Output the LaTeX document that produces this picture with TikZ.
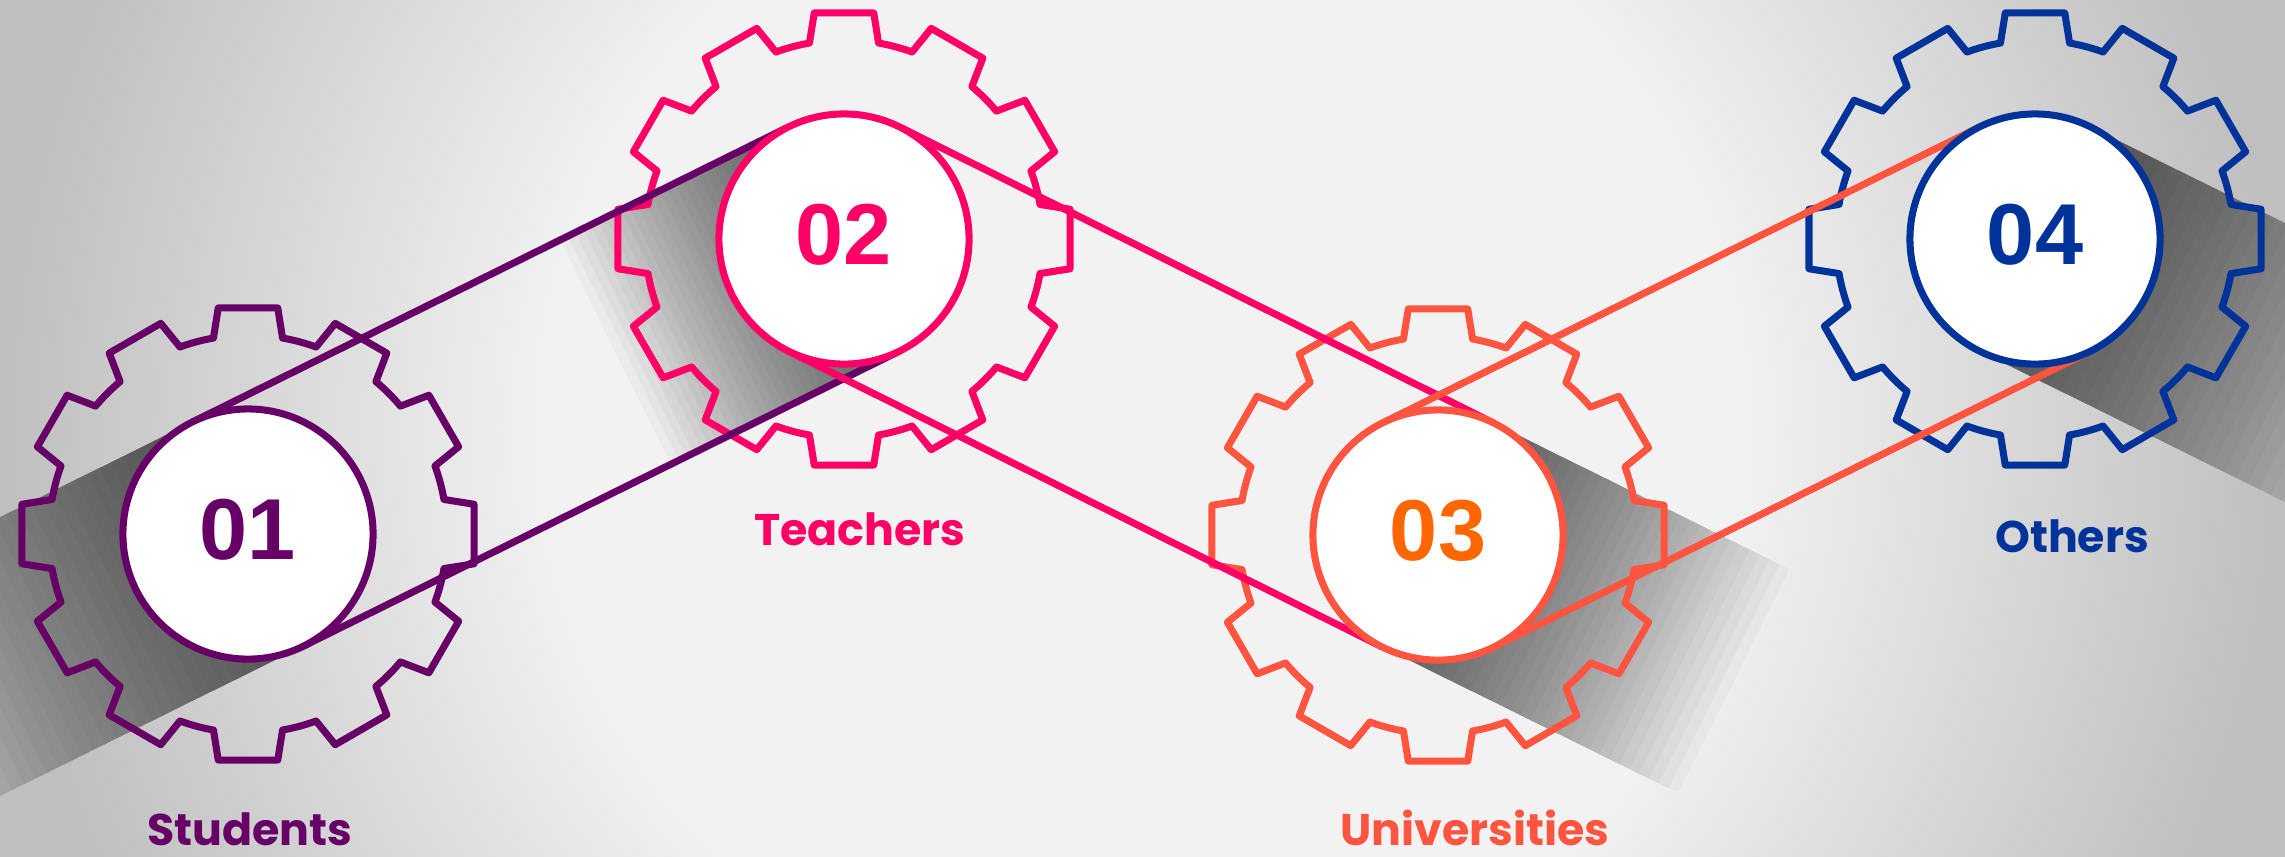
\documentclass[tikz,border=0pt]{standalone}
\usepackage{fontspec}
\usetikzlibrary{calc}

\newfontfamily\numfont{Liberation Sans}
\newfontfamily\tagfont{Poppins}

\definecolor{stud}{HTML}{660066}
\definecolor{teach}{HTML}{FF0066}
\definecolor{univ}{HTML}{FF5540}
\definecolor{univnum}{HTML}{FF6600}
\definecolor{oth}{HTML}{003399}
\definecolor{bgmid}{HTML}{F2F2F2}
\definecolor{bgedge}{HTML}{BFBFBF}

\pgfdeclareradialshading{bgglow}{\pgfpoint{0bp}{0bp}}{color(0bp)=(bgmid); color(13bp)=(bgmid); color(25bp)=(bgedge); color(50bp)=(bgedge)}

\tikzset{
  gearline/.style={draw=#1, line width=2pt, line join=round},
  belt/.style={draw=#1, line width=2pt},
  hub/.style={circle, draw=#1, fill=white, line width=2pt, minimum size=2.5cm, inner sep=0pt, text depth=1mm, text=#1, font=\numfont\bfseries\fontsize{24.6}{26}\selectfont},
  tag/.style={text=#1, inner sep=0pt, anchor=base, font=\tagfont\bfseries\fontsize{12.6}{14}\selectfont},
  shadowlayer/.style={fill=black, fill opacity=0.028}
}

\begin{document}
\begin{tikzpicture}[x=0.01cm, y=-0.01cm]
    \useasboundingbox (0,0) rectangle (2285,856);
    \begin{scope}
        \clip (0,0) rectangle (2285,856);
        \shade[shading=bgglow] (0,-700) rectangle (2285,1556);
    \end{scope}

    \coordinate (c1) at (248,534);
    \coordinate (c2) at (844,239);
    \coordinate (c3) at (1438,535);
    \coordinate (c4) at (2035,239);

    % long shadows, built up from thin layers
    \foreach \k in {1,...,30} {
        \foreach \c/\s in {c1/13, c2/8.5}
            \fill[shadowlayer] ([shift={(63.7:125)}]\c) -- ++(153.7:\k*\s) -- ++(243.7:250) -- ([shift={(243.7:125)}]\c) -- cycle;
        \foreach \c/\s in {c3/11, c4/13}
            \fill[shadowlayer] ([shift={(116.3:125)}]\c) -- ++(26.3:\k*\s) -- ++(-63.7:250) -- ([shift={(-63.7:125)}]\c) -- cycle;
    }

    % gears
    \foreach \c/\col in {c1/stud, c2/teach, c3/univ, c4/oth}
        \draw[gearline=\col] ([shift={(80:199)}]\c)
            \foreach \a in {90,120,...,420} {
                -- ([shift={(\a-7.5:228)}]\c) -- ([shift={(\a+7.5:228)}]\c)
                -- ([shift={(\a+10:199)}]\c) arc[start angle=\a+10, end angle=\a+20, radius=199]
            } -- cycle;

    % belts
    \foreach \p/\q/\col in {c1/c2/stud, c2/c3/teach, c3/c4/univ} {
        \draw[belt=\col] ($(\p)!1.25cm!90:(\q)$) -- ($(\q)!1.25cm!-90:(\p)$);
        \draw[belt=\col] ($(\p)!1.25cm!-90:(\q)$) -- ($(\q)!1.25cm!90:(\p)$);
    }

    \node[hub=stud] (n1) at (c1) {01};
    \node[hub=teach] (n2) at (c2) {02};
    \node[hub=univ, text=univnum] (n3) at (c3) {03};
    \node[hub=oth] (n4) at (c4) {04};

    \node[tag=stud] (t1) at (250,845) {Students};
    \node[tag=teach] (t2) at (860,545) {Teachers};
    \node[tag=univ] (t3) at (1475,845) {Universities};
    \node[tag=oth] (t4) at (2072,552) {Others};
\end{tikzpicture}
\end{document}
